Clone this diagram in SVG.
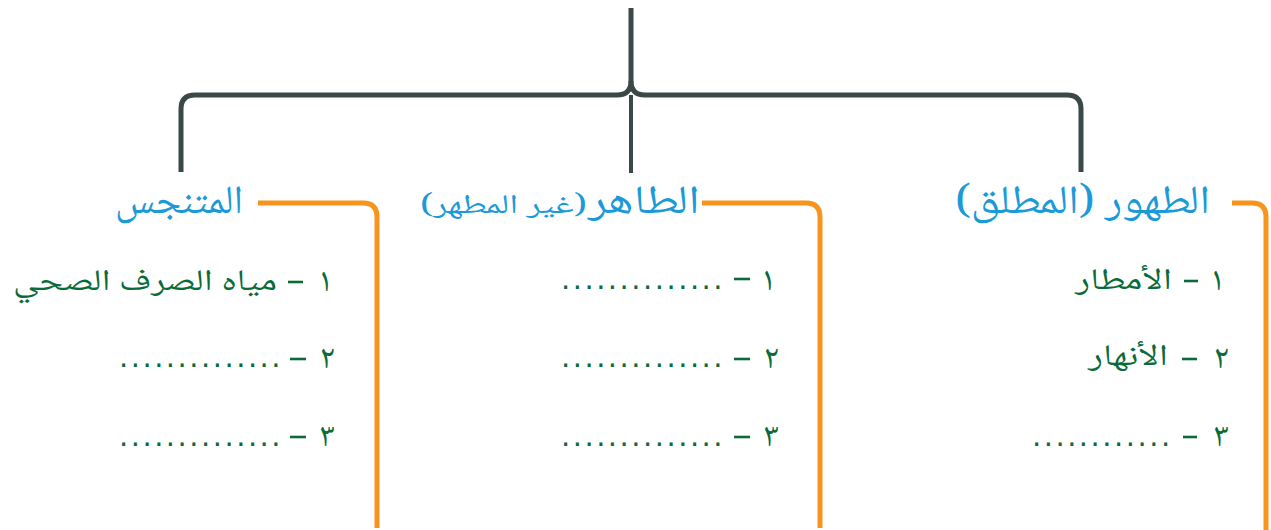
<svg xmlns="http://www.w3.org/2000/svg" width="1271" height="530" viewBox="0 0 1271 530">
<style>
.tree{fill:none;stroke:#3a4848;stroke-width:5;stroke-linecap:butt}
.br{fill:none;stroke:#f7941d;stroke-width:5}
.title{font-family:"Noto Naskh Arabic","DejaVu Sans",sans-serif;font-size:40px;fill:#1b9ad7}
.sub{font-size:27px}
.it{font-family:"Noto Naskh Arabic","DejaVu Sans",sans-serif;font-size:30px;fill:#0a6b3a}
.num{font-family:"Noto Naskh Arabic","DejaVu Sans",sans-serif;font-size:34px;fill:#0a6b3a}
.dots{font-family:"DejaVu Sans",sans-serif;font-size:29px;fill:#0a6b3a;letter-spacing:2.5px}
.dash{stroke:#0a6b3a;stroke-width:2.6}
</style>
<rect width="1271" height="530" fill="#ffffff"/>
<g id="connectors">
<path class="tree" d="M631,8 V81 Q631,95 617,95 H195 Q181,95 181,109 V172"/>
<path class="tree" d="M631,81 Q631,95 645,95 H1067 Q1081,95 1081,109 V172"/>
<path class="tree" style="stroke-width:4" d="M631,95 V173"/>
</g>
<g id="node-tahur">
<path class="br" d="M1232,203 H1252 Q1266,203 1266,217 V530"/>
<text class="title" x="1210" y="213" text-anchor="end" textLength="255" lengthAdjust="spacingAndGlyphs">الطهور (المطلق)</text>
<text class="num" x="1225" y="290" text-anchor="end">١</text>
<line class="dash" x1="1184" y1="281" x2="1198" y2="281"/>
<text class="it" x="1172" y="289" text-anchor="end" textLength="97" lengthAdjust="spacingAndGlyphs">الأمطار</text>
<text class="num" x="1229" y="368" text-anchor="end">٢</text>
<line class="dash" x1="1182" y1="359" x2="1197" y2="359"/>
<text class="it" x="1168" y="365" text-anchor="end" textLength="80" lengthAdjust="spacingAndGlyphs">الأنهار</text>
<text class="num" x="1229" y="446" text-anchor="end">٣</text>
<line class="dash" x1="1183" y1="437" x2="1197" y2="437"/>
<text class="dots" x="1032" y="446">............</text>
</g>
<g id="node-taher">
<path class="br" d="M702,203 H806 Q820,203 820,217 V528"/>
<text class="title" x="700" y="213" text-anchor="end" textLength="112" lengthAdjust="spacingAndGlyphs">الطاهر</text>
<text class="title sub" x="587" y="213" text-anchor="end" textLength="167" lengthAdjust="spacingAndGlyphs">(غير المطهر)</text>
<text class="num" x="776" y="290" text-anchor="end">١</text>
<line class="dash" x1="734" y1="279" x2="750" y2="279"/>
<text class="dots" x="561" y="289">..............</text>
<text class="num" x="779" y="368" text-anchor="end">٢</text>
<line class="dash" x1="734" y1="359" x2="750" y2="359"/>
<text class="dots" x="561" y="367">..............</text>
<text class="num" x="779" y="446" text-anchor="end">٣</text>
<line class="dash" x1="734" y1="437" x2="750" y2="437"/>
<text class="dots" x="561" y="446">..............</text>
</g>
<g id="node-najis">
<path class="br" d="M258,203 H363 Q377,203 377,217 V528"/>
<text class="title" x="243" y="213" text-anchor="end" textLength="128" lengthAdjust="spacingAndGlyphs">المتنجس</text>
<text class="num" x="333" y="291" text-anchor="end">١</text>
<line class="dash" x1="288" y1="282" x2="303" y2="282"/>
<text class="it" x="277" y="290" text-anchor="end" textLength="264" lengthAdjust="spacingAndGlyphs">مياه الصرف الصحي</text>
<text class="num" x="335" y="368" text-anchor="end">٢</text>
<line class="dash" x1="290" y1="359" x2="306" y2="359"/>
<text class="dots" x="119" y="367">..............</text>
<text class="num" x="335" y="446" text-anchor="end">٣</text>
<line class="dash" x1="290" y1="437" x2="306" y2="437"/>
<text class="dots" x="119" y="446">..............</text>
</g>
</svg>
